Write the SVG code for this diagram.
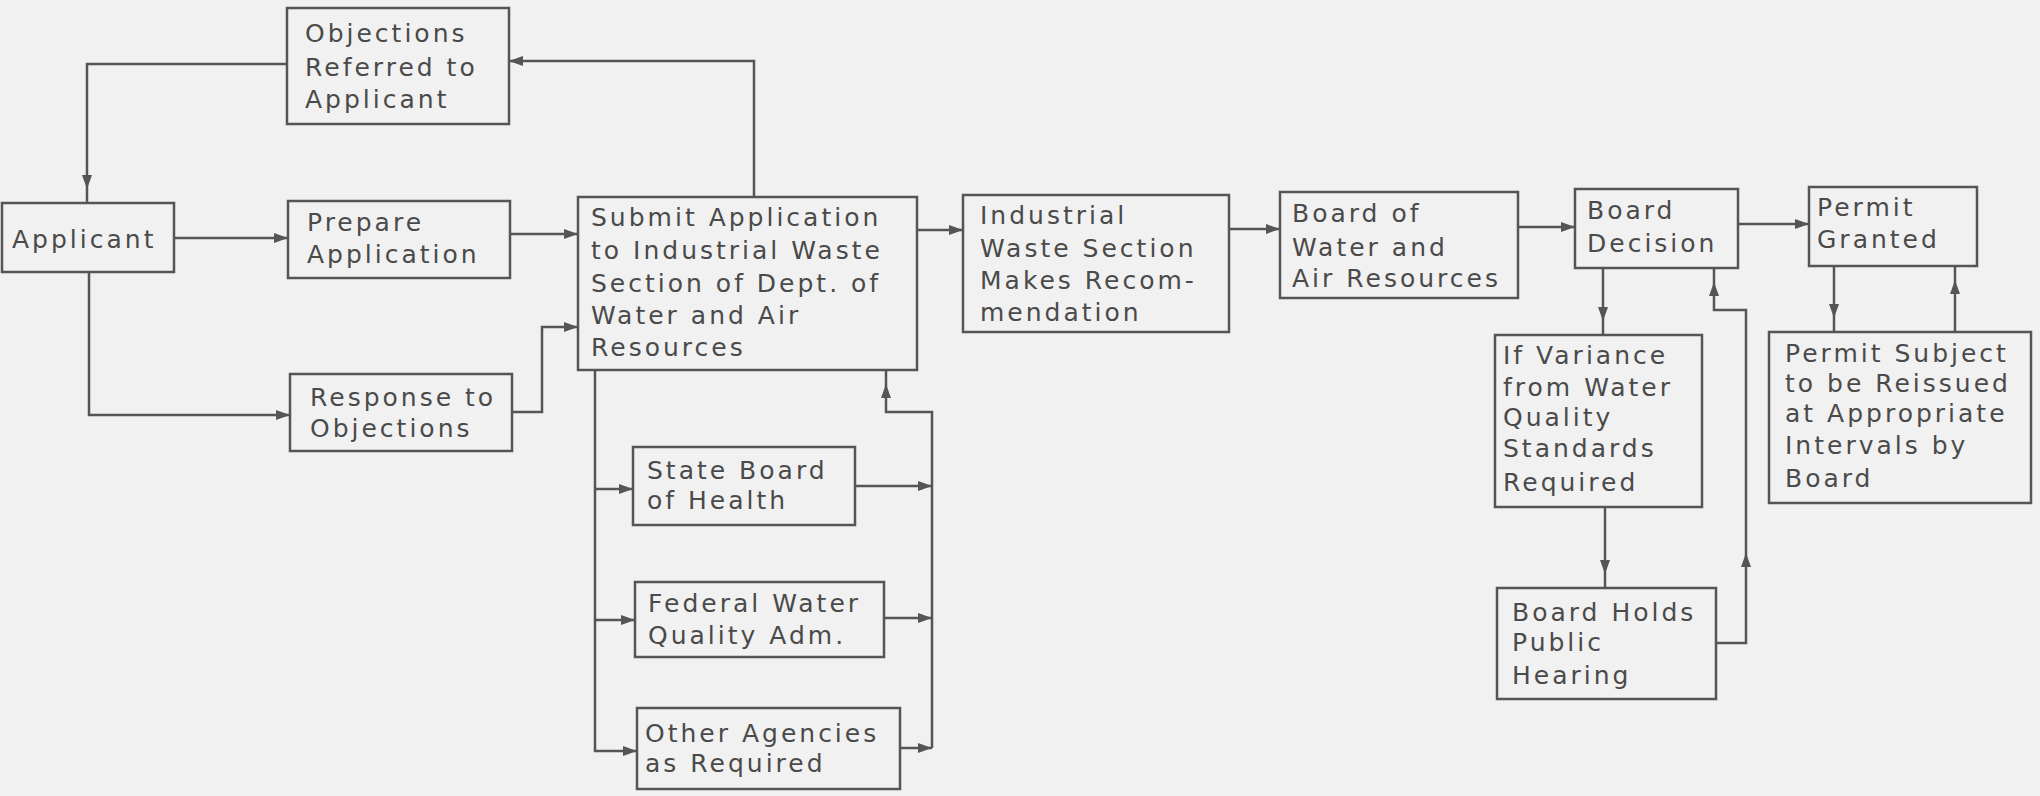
<svg xmlns="http://www.w3.org/2000/svg" width="2040" height="796" viewBox="0 0 2040 796">
  <style>
    .box { fill: #f1f1f1; stroke: #555; stroke-width: 2.5; }
    .lbl { font-family: "DejaVu Sans", "Liberation Sans", sans-serif; font-size: 25px; letter-spacing: 3px; fill: #4a4a4a; }
    .wire { fill: none; stroke: #555; stroke-width: 2.5; }
    .a { marker-end: url(#arr); }
    .g { marker-end: url(#arrgap); }
  </style>
  <defs>
    <!-- arrowhead with its tip on the line end -->
    <marker id="arr" markerUnits="userSpaceOnUse" markerWidth="14" markerHeight="10" refX="14" refY="5" orient="auto" viewBox="0 0 14 10">
      <path d="M0,0 L14,5 L0,10 z" fill="#555"/>
    </marker>
    <!-- arrowhead set back from the line end -->
    <marker id="arrgap" markerUnits="userSpaceOnUse" markerWidth="30" markerHeight="10" refX="28" refY="5" orient="auto" viewBox="0 0 30 10">
      <path d="M0,0 L14,5 L0,10 z" fill="#555"/>
    </marker>
  </defs>

  <rect x="0" y="0" width="2040" height="796" fill="#f1f1f1"/>

  <g id="connectors">
    <path class="wire a" d="M754,197 V61 H509"/>
    <path class="wire g" d="M287,64 H87 V203"/>
    <path class="wire a" d="M174,238 H288"/>
    <path class="wire a" d="M510,234 H578"/>
    <path class="wire a" d="M89,272 V415 H290"/>
    <path class="wire a" d="M512,412 H542 V327 H578"/>
    <path class="wire a" d="M595,370 V751 H637"/>
    <path class="wire a" d="M595,489 H633"/>
    <path class="wire a" d="M595,620 H635"/>
    <path class="wire a" d="M855,486 H932"/>
    <path class="wire a" d="M884,618 H932"/>
    <path class="wire a" d="M900,748 H932"/>
    <path class="wire g" d="M932,748 V412 H886 V370"/>
    <path class="wire a" d="M917,230 H963"/>
    <path class="wire a" d="M1229,229 H1280"/>
    <path class="wire a" d="M1518,227 H1575"/>
    <path class="wire a" d="M1738,224 H1809"/>
    <path class="wire g" d="M1603,268 V335"/>
    <path class="wire g" d="M1605,507 V588"/>
    <path class="wire a" d="M1716,643 H1746 V553"/>
    <path class="wire g" d="M1746,553 V310 H1714 V268"/>
    <path class="wire g" d="M1834,266 V332"/>
    <path class="wire g" d="M1955,332 V266"/>
  </g>

  <g id="applicant">
    <rect class="box" x="2" y="203" width="172" height="69"/>
    <text class="lbl" x="12" y="248">Applicant</text>
  </g>
  <g id="objections-referred">
    <rect class="box" x="287" y="8" width="222" height="116"/>
    <text class="lbl" x="305" y="42">Objections</text>
    <text class="lbl" x="305" y="76">Referred to</text>
    <text class="lbl" x="305" y="108">Applicant</text>
  </g>
  <g id="prepare-application">
    <rect class="box" x="288" y="201" width="222" height="77"/>
    <text class="lbl" x="307" y="231">Prepare</text>
    <text class="lbl" x="307" y="263">Application</text>
  </g>
  <g id="response-to-objections">
    <rect class="box" x="290" y="374" width="222" height="77"/>
    <text class="lbl" x="310" y="406">Response to</text>
    <text class="lbl" x="310" y="437">Objections</text>
  </g>
  <g id="submit-application">
    <rect class="box" x="578" y="197" width="339" height="173"/>
    <text class="lbl" x="591" y="226">Submit Application</text>
    <text class="lbl" x="591" y="259">to Industrial Waste</text>
    <text class="lbl" x="591" y="292">Section of Dept. of</text>
    <text class="lbl" x="591" y="324">Water and Air</text>
    <text class="lbl" x="591" y="356">Resources</text>
  </g>
  <g id="state-board-of-health">
    <rect class="box" x="633" y="447" width="222" height="78"/>
    <text class="lbl" x="647" y="479">State Board</text>
    <text class="lbl" x="647" y="509">of Health</text>
  </g>
  <g id="federal-water-quality">
    <rect class="box" x="635" y="582" width="249" height="75"/>
    <text class="lbl" x="648" y="612">Federal Water</text>
    <text class="lbl" x="648" y="644">Quality Adm.</text>
  </g>
  <g id="other-agencies">
    <rect class="box" x="637" y="708" width="263" height="81"/>
    <text class="lbl" x="645" y="742">Other Agencies</text>
    <text class="lbl" x="645" y="772">as Required</text>
  </g>
  <g id="industrial-waste-section">
    <rect class="box" x="963" y="195" width="266" height="137"/>
    <text class="lbl" x="980" y="224">Industrial</text>
    <text class="lbl" x="980" y="257">Waste Section</text>
    <text class="lbl" x="980" y="289">Makes Recom-</text>
    <text class="lbl" x="980" y="321">mendation</text>
  </g>
  <g id="board-of-water-and-air">
    <rect class="box" x="1280" y="192" width="238" height="106"/>
    <text class="lbl" x="1292" y="222">Board of</text>
    <text class="lbl" x="1292" y="256">Water and</text>
    <text class="lbl" x="1292" y="287">Air Resources</text>
  </g>
  <g id="board-decision">
    <rect class="box" x="1575" y="189" width="163" height="79"/>
    <text class="lbl" x="1587" y="219">Board</text>
    <text class="lbl" x="1587" y="252">Decision</text>
  </g>
  <g id="permit-granted">
    <rect class="box" x="1809" y="187" width="168" height="79"/>
    <text class="lbl" x="1817" y="216">Permit</text>
    <text class="lbl" x="1817" y="248">Granted</text>
  </g>
  <g id="variance">
    <rect class="box" x="1495" y="335" width="207" height="172"/>
    <text class="lbl" x="1503" y="364">If Variance</text>
    <text class="lbl" x="1503" y="396">from Water</text>
    <text class="lbl" x="1503" y="426">Quality</text>
    <text class="lbl" x="1503" y="457">Standards</text>
    <text class="lbl" x="1503" y="491">Required</text>
  </g>
  <g id="permit-subject">
    <rect class="box" x="1769" y="332" width="262" height="171"/>
    <text class="lbl" x="1785" y="362">Permit Subject</text>
    <text class="lbl" x="1785" y="392">to be Reissued</text>
    <text class="lbl" x="1785" y="422">at Appropriate</text>
    <text class="lbl" x="1785" y="454">Intervals by</text>
    <text class="lbl" x="1785" y="487">Board</text>
  </g>
  <g id="public-hearing">
    <rect class="box" x="1497" y="588" width="219" height="111"/>
    <text class="lbl" x="1512" y="621">Board Holds</text>
    <text class="lbl" x="1512" y="651">Public</text>
    <text class="lbl" x="1512" y="684">Hearing</text>
  </g>
</svg>
